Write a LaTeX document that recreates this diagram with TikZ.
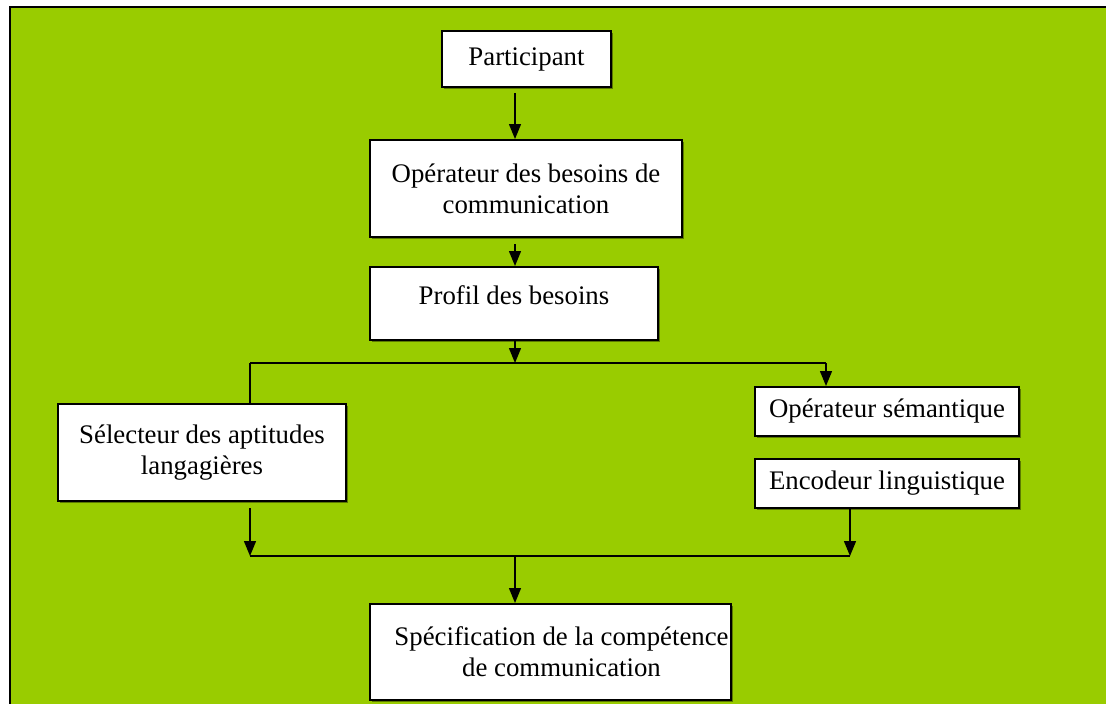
\documentclass[tikz,border=0pt]{standalone}
\usepackage{fontspec}
\setmainfont{Liberation Serif}
\usetikzlibrary{arrows.meta,calc}
\definecolor{bggreen}{HTML}{99CC00}
\definecolor{shadowgreen}{HTML}{5C7A00}
\begin{document}
\begin{tikzpicture}[x=1pt,y=1pt,
  box/.style={draw=black,line width=2pt,fill=white,inner sep=0pt,align=center,
    font=\fontsize{26.8}{31}\selectfont,
    drop shadow/.style={},
    append after command={}},
  shadowbox/.style={fill=shadowgreen},
  arr/.style={line width=1.4pt,-{Triangle[length=15pt,width=12pt]}},
  wire/.style={line width=1.4pt},
  thick wire/.style={line width=2.2pt}]
\useasboundingbox (0,0) rectangle (1106,-704);
\fill[bggreen] (10,-7) rectangle (1106,-704);
\draw[line width=2.2pt] (10,-704) -- (10,-7) -- (1106,-7);

% shadows
\fill[shadowgreen] (444,-33) rectangle (613,-89);
\fill[shadowgreen] (372,-142) rectangle (684,-239);
\fill[shadowgreen] (372,-269) rectangle (660,-342);
\fill[shadowgreen] (757,-389) rectangle (1021,-438);
\fill[shadowgreen] (60,-406) rectangle (348,-503);
\fill[shadowgreen] (757,-461) rectangle (1021,-510);
\fill[shadowgreen] (372,-606) rectangle (733,-702);

\node[box,minimum width=169pt,minimum height=56pt] (part) at (526.5,-59) {Participant};
\node[box,minimum width=312pt,minimum height=97pt] (op1) at (526,-188.5)
  {Opérateur des besoins de\\communication};
\node[box,minimum width=288pt,minimum height=73pt,text height=37pt,text depth=36pt] (prof) at (514,-303.5)
  {Profil des besoins};
\node[box,minimum width=264pt,minimum height=49pt] (sem) at (887,-411.5)
  {Opérateur sémantique};
\node[box,minimum width=288pt,minimum height=97pt] (sel) at (202,-452.5)
  {Sélecteur des aptitudes\\langagières};
\node[box,minimum width=264pt,minimum height=49pt] (enc) at (887,-483.5)
  {Encodeur linguistique};
\node[box,minimum width=361pt,minimum height=96pt] (spec) at (550.5,-652)
  {\hspace*{22pt}Spécification de la compétence\\\hspace*{22pt}de communication};

\coordinate (ax) at (515,0);
\coordinate (lx) at (250,0);
\coordinate (rx) at (826,0);
\coordinate (rbx) at (850,0);
\coordinate (j1) at (515,-363);
\coordinate (j2) at (515,-556);
\coordinate (jl1) at (250,-363);
\coordinate (jr1) at (826,-363);
\coordinate (jl2) at (250,-556);
\coordinate (jr2) at (850,-556);

\draw[arr] ($(part.south -| ax)+(0,-5)$) -- (op1.north -| ax);
\draw[arr] ($(op1.south -| ax)+(0,-6)$) -- (prof.north -| ax);
\draw[arr] (prof.south -| ax) -- (j1);
\draw[thick wire] (jl1) -- (jr1);
\draw[wire] (jl1) -- (sel.north -| lx);
\draw[arr] (jr1) -- (sem.north -| rx);
\draw[arr] ($(sel.south -| lx)+(0,-6)$) -- (jl2);
\draw[arr] (enc.south -| rbx) -- (jr2);
\draw[thick wire] (jl2) -- (jr2);
\draw[arr] (j2) -- (spec.north -| ax);
\end{tikzpicture}
\end{document}
